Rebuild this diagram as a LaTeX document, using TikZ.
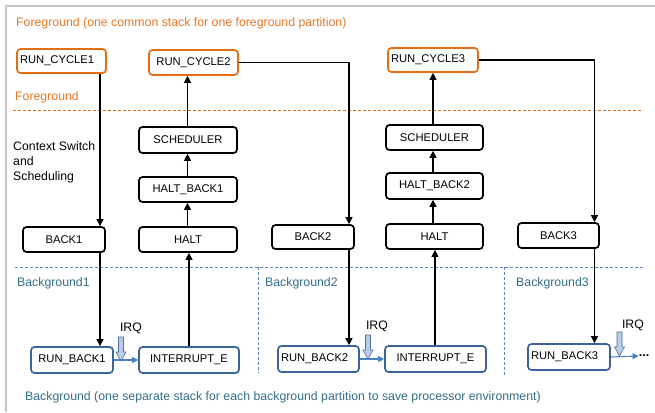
\documentclass[tikz,border=0pt]{standalone}
\usepackage{fontspec}
\setmainfont{Liberation Sans}
\usetikzlibrary{arrows.meta}
\definecolor{orgT}{RGB}{230,120,40}
\definecolor{orgB}{RGB}{228,110,20}
\definecolor{bluB}{RGB}{60,98,155}
\definecolor{bluA}{RGB}{74,130,200}
\definecolor{bluD}{RGB}{90,135,200}
\definecolor{tealT}{RGB}{50,110,135}
\definecolor{frameG}{RGB}{200,196,190}
\definecolor{irqF}{RGB}{185,205,230}
\definecolor{irqD}{RGB}{80,110,160}
\begin{document}
\begin{tikzpicture}[x=1pt,y=-1pt,
 box/.style={rounded corners=3.5pt, line width=1.7pt, fill=white, inner ysep=0pt, inner xsep=3pt, font=\fontsize{11.2}{13}\selectfont},
 bbox/.style={box, draw=black},
 obox/.style={box, draw=orgB},
 ubox/.style={box, draw=bluB},
 conn/.style={line width=1.1pt, -{Triangle[length=7pt,width=7pt]}},
 bconn/.style={draw=bluA, line width=1.1pt, -{Triangle[length=6pt,width=6pt]}},
 lbl/.style={anchor=west, inner sep=0pt, font=\fontsize{12.3}{15}\selectfont},
 fgdash/.style={draw=orgB, line width=0.8pt, dash pattern=on 3pt off 2pt},
 bgdash/.style={draw=bluD, line width=0.8pt, dash pattern=on 3pt off 2pt},
 irq/.pic={\draw[irqD, fill=irqF, line width=0.6pt] (-2.5,0) -- (2.5,0) -- (2.5,15) -- (5,15) -- (0,24) -- (-5,15) -- (-2.5,15) -- cycle;},
 ]
\useasboundingbox (0,0) rectangle (655,412);
% frame
\draw[frameG, line width=2pt] (655,6) -- (5.5,6) -- (5.5,412);

% labels
\node[lbl, text=orgT] (ttl) at (16,23.5) {Foreground (one common stack for one foreground partition)};
\node[lbl, text=orgT] (fg) at (15,97) {Foreground};
\node[lbl, align=left] (ctx) at (13,162) {Context Switch\\and\\Scheduling};
\node[lbl, text=tealT] (bg1) at (17,283) {Background1};
\node[lbl, text=tealT] (bg2) at (265,283) {Background2};
\node[lbl, text=tealT] (bg3) at (516,283) {Background3};
\node[lbl, text=tealT] (bgt) at (25,397) {Background (one separate stack for each background partition to save processor environment)};

% dashed separators
\draw[fgdash] (13,110) -- (643,110);
\draw[bgdash] (15,267) -- (643,267);
\draw[bgdash] (258,267) -- (258,373);
\draw[bgdash] (504,267) -- (504,376);

% foreground nodes
\node[obox, minimum height=24, text width=83, align=left] (rc1) at (61.5,61) {RUN\_CYCLE1};
\node[obox, minimum height=25, minimum width=89] (rc2) at (193.5,62.5) {RUN\_CYCLE2};
\node[obox, minimum height=24, text width=84, align=left] (rc3) at (433,60) {RUN\_CYCLE3};

% context switch nodes
\node[bbox, minimum height=26, minimum width=98] (sch1) at (188,140) {SCHEDULER};
\node[bbox, minimum height=25, minimum width=98] (hb1) at (188,189.5) {HALT\_BACK1};
\node[bbox, minimum height=25, minimum width=98] (halt1) at (188,239.5) {HALT};
\node[bbox, minimum height=25, minimum width=97] (sch2) at (434.5,137.5) {SCHEDULER};
\node[bbox, minimum height=26, minimum width=97] (hb2) at (434.5,186) {HALT\_BACK2};
\node[bbox, minimum height=25, minimum width=97] (halt2) at (434.5,236.5) {HALT};
\node[bbox, minimum height=25, minimum width=82] (back1) at (64,239.5) {BACK1};
\node[bbox, minimum height=24, minimum width=82] (back2) at (313,237) {BACK2};
\node[bbox, minimum height=25, minimum width=81] (back3) at (558.5,235.5) {BACK3};

% background nodes
\node[ubox, minimum height=26, minimum width=82] (rb1) at (72,360) {RUN\_BACK1};
\node[ubox, minimum height=26, minimum width=100] (ie1) at (189,360) {INTERRUPT\_E};
\node[ubox, minimum height=26, text width=75, align=left] (rb2) at (318.5,359) {RUN\_BACK2};
\node[ubox, minimum height=26, minimum width=101] (ie2) at (435.5,359) {INTERRUPT\_E};
\node[ubox, minimum height=26, text width=76, align=left] (rb3) at (569,357) {RUN\_BACK3};
\node[inner sep=0pt, font=\fontsize{12.5}{14}\selectfont\bfseries] (more) at (644,356) {...};

% IRQ labels and arrows
\node[inner sep=0pt, font=\fontsize{12.3}{14}\selectfont] (irq1) at (131,328) {IRQ};
\node[inner sep=0pt, font=\fontsize{12.3}{14}\selectfont] (irq2) at (377,326) {IRQ};
\node[inner sep=0pt, font=\fontsize{12.3}{14}\selectfont] (irq3) at (633,325) {IRQ};
\pic at (121,337) {irq};
\pic at (368,335) {irq};
\pic at (619.5,332) {irq};

% connectors
\coordinate (x1) at (100,0);
\coordinate (x2) at (189,0);
\coordinate (x3) at (187.5,0);
\coordinate (x4) at (349,0);
\coordinate (x6) at (435,0);
\coordinate (x7) at (433,0);
\coordinate (x8) at (594.5,0);

\draw[conn] (rc1.south -| x1) -- (back1.north -| x1);
\draw[conn] (back1.south -| x1) -- (rb1.north -| x1);
\draw[conn] (ie1.north -| x2) -- (halt1.south -| x2);
\draw[conn] (halt1.north -| x3) -- (hb1.south -| x3);
\draw[conn] (hb1.north -| x3) -- (sch1.south -| x3);
\draw[conn] (sch1.north -| x3) -- (rc2.south -| x3);
\draw[conn] (rc2.east) -| (back2.north -| x4);
\draw[conn] (back2.south -| x4) -- (rb2.north -| x4);
\draw[conn] (ie2.north -| x6) -- (halt2.south -| x6);
\draw[conn] (halt2.north -| x7) -- (hb2.south -| x7);
\draw[conn] (hb2.north -| x7) -- (sch2.south -| x7);
\draw[conn] (sch2.north -| x7) -- (rc3.south -| x7);
\draw[conn] (rc3.east) -| (back3.north -| x8);
\draw[conn] (back3.south -| x8) -- (rb3.north -| x8);

\draw[bconn] (rb1.east) -- (ie1.west);
\draw[bconn] (rb2.east) -- (ie2.west);
\draw[bconn] (rb3.east) -- (more.west);
\end{tikzpicture}
\end{document}
